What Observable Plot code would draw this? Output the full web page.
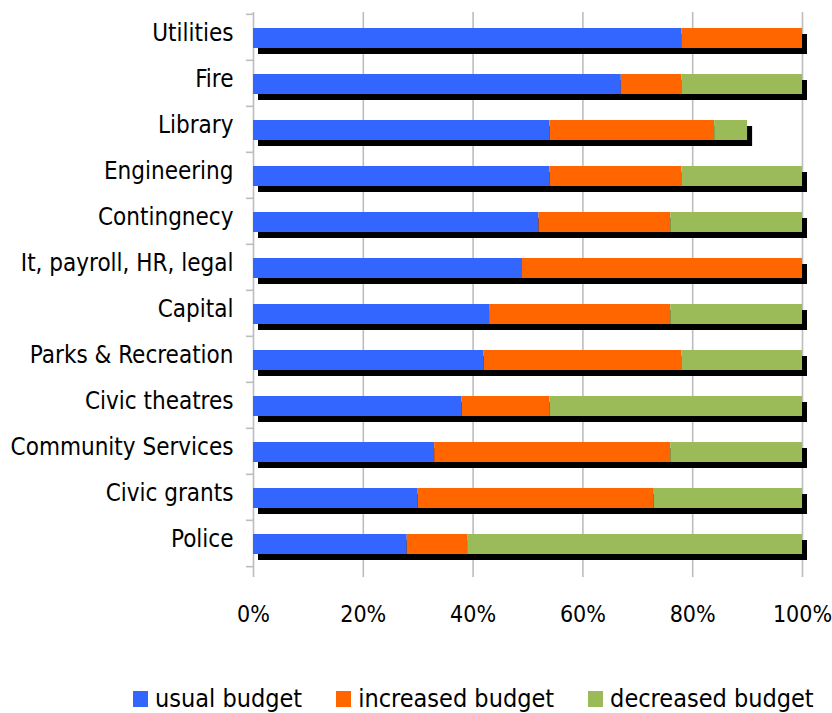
<!DOCTYPE html>
<html>
<head>
<meta charset="utf-8">
<script src="https://cdn.jsdelivr.net/npm/d3@7"></script>
<script src="https://cdn.jsdelivr.net/npm/@observablehq/plot@0.6"></script>
<style>
  html, body { margin: 0; padding: 0; background: #fff; }
  body { position: relative; width: 832px; height: 713px; overflow: hidden; }
  #legend { position: absolute; left: 133px; top: 684px; width: 720px; display: flex; align-items: center; white-space: nowrap;
    font-family: "DejaVu Sans Condensed", "DejaVu Sans", sans-serif; font-stretch: condensed; font-size: 25px; line-height: 30px; color: #000; }
  .item { display: flex; align-items: center; margin-right: 34px; flex-shrink: 0; white-space: nowrap; }
  .sw { width: 15px; height: 16px; margin-right: 7px; flex-shrink: 0; }
</style>
</head>
<body>
<div id="chart"></div>
<div id="legend"></div>
<script>
const categories = ["Utilities","Fire","Library","Engineering","Contingnecy","It, payroll, HR, legal","Capital","Parks & Recreation","Civic theatres","Community Services","Civic grants","Police"];
const seriesNames = ["usual budget","increased budget","decreased budget"];
const seriesColors = ["#3366FF","#FF6600","#9BBB59"];
const usual     = [78,67,54,54,52,49,43,42,38,33,30,28];
const increased = [22,11,30,24,24,51,33,36,16,43,43,11];
const decreased = [0,22,6,22,24,0,24,22,46,24,27,61];
const xTicks = [0,20,40,60,80,100];

const seriesValues = [usual, increased, decreased];
const data = [];
categories.forEach((c, i) => {
  seriesNames.forEach((s, j) => data.push({category: c, series: s, value: seriesValues[j][i]}));
});
const totals = categories.map((c, i) => ({category: c, total: usual[i] + increased[i] + decreased[i]}));

const W = 832, H = 640, mt = 12, mb = 72, ml = 253, mr = 30;
const step = (H - mt - mb) / categories.length;
const tickLen = 7 / ((W - ml - mr) / 100); // y tick length in x units

const grid = "#bdbdbd";
const chart = Plot.plot({
  width: W, height: H,
  marginTop: mt, marginBottom: mb, marginLeft: ml, marginRight: mr,
  style: {fontFamily: "'DejaVu Sans Condensed', 'DejaVu Sans', sans-serif", background: "#fff", color: "#000"},
  x: {domain: [0, 100]},
  y: {domain: categories, padding: 0},
  color: {domain: seriesNames, range: seriesColors},
  marks: [
    Plot.ruleX(xTicks, {stroke: grid, strokeWidth: 1.6}),
    Plot.ruleY(categories, {y: d => d, x1: -tickLen, x2: 0, dy: -step / 2, stroke: grid, strokeWidth: 1.6}),
    Plot.ruleY(categories.slice(-1), {y: d => d, x1: -tickLen, x2: 0, dy: step / 2, stroke: grid, strokeWidth: 1.6}),
    Plot.barX(totals, {x: "total", y: "category", fill: "black", dx: 5, dy: 6, insetTop: 14, insetBottom: 12}),
    Plot.barX(data, Plot.stackX({x: "value", y: "category", fill: "series", insetTop: 14, insetBottom: 12})),
    Plot.axisX({ticks: xTicks, tickFormat: d => d + "%", tickSize: 9, tickPadding: 28, stroke: grid, strokeWidth: 1.6,
      fontSize: 23, fill: "#000", fontFamily: "'Liberation Sans Narrow', 'DejaVu Sans Condensed', 'Open Sans', sans-serif", label: null}),
    Plot.axisY({tickSize: 0, tickPadding: 20, fontSize: 24, fill: "#000", dy: -4, label: null})
  ]
});
document.getElementById("chart").appendChild(chart);

const legend = document.getElementById("legend");
seriesNames.forEach((s, i) => {
  const it = document.createElement("div");
  it.className = "item";
  const sw = document.createElement("div");
  sw.className = "sw";
  sw.style.background = seriesColors[i];
  const t = document.createElement("span");
  t.textContent = s;
  it.appendChild(sw); it.appendChild(t);
  legend.appendChild(it);
});
</script>
</body>
</html>
